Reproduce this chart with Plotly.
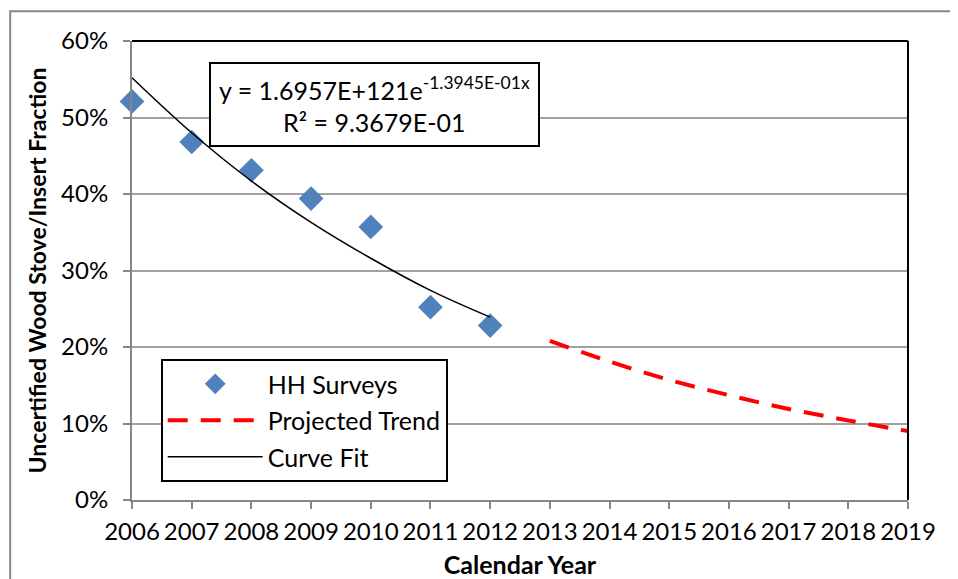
import plotly.graph_objects as go

years_obs = [2006, 2007, 2008, 2009, 2010, 2011, 2012]
hh_surveys = [0.521, 0.468, 0.431, 0.394, 0.357, 0.252, 0.228]

fit_years = [2006, 2007, 2008, 2009, 2010, 2011, 2012]
curve_fit = [0.552, 0.480, 0.417, 0.363, 0.316, 0.274, 0.239]

proj_years = [2013, 2014, 2015, 2016, 2017, 2018, 2019]
projected = [0.208, 0.181, 0.157, 0.137, 0.119, 0.104, 0.090]

x_ticks = list(range(2006, 2020))

FONT = "Lato, 'Open Sans', sans-serif"

fig = go.Figure()
fig.add_trace(go.Scatter(x=years_obs, y=hh_surveys, mode="markers", name="HH Surveys",
                         legendgroup="a", cliponaxis=False,
                         marker=dict(symbol="diamond", size=19, color="#4F81BD",
                                     line=dict(width=0))))
fig.add_trace(go.Scatter(x=proj_years, y=projected, mode="lines", name="Projected Trend",
                         legendgroup="b",
                         line=dict(color="#FF0000", width=4, dash="20px,13px", shape="spline")))
fig.add_trace(go.Scatter(x=fit_years, y=curve_fit, mode="lines", name="Curve Fit",
                         legendgroup="c",
                         line=dict(color="black", width=1.5, shape="spline")))

fig.update_layout(
    width=950, height=571,
    margin=dict(l=124, r=50, t=33, b=79, autoexpand=False),
    paper_bgcolor="white", plot_bgcolor="white",
    font=dict(family=FONT, size=24, color="black"),
    showlegend=True,
    legend=dict(x=0.037, y=0.307, xanchor="left", yanchor="top",
                bordercolor="black", borderwidth=2, bgcolor="white",
                font=dict(size=25), itemwidth=95, tracegroupgap=1),
    xaxis=dict(range=[2006, 2019], tickmode="array", tickvals=x_ticks,
               ticktext=[str(v) for v in x_ticks],
               showgrid=False, zeroline=False, showline=True, linecolor="#868686",
               linewidth=2, ticks="outside", ticklen=7, tickcolor="#868686", tickwidth=2,
               ticklabelstandoff=2,
               title=dict(text="<b>Calendar Year</b>", font=dict(size=25), standoff=16),
               tickfont=dict(size=24)),
    yaxis=dict(range=[0, 0.6], dtick=0.1, tickformat=".0%",
               showgrid=True, gridcolor="#A0A0A0", gridwidth=1.5, zeroline=False,
               showline=True, linecolor="#868686", linewidth=2,
               ticks="outside", ticklen=7, tickcolor="#868686", tickwidth=2,
               ticklabelstandoff=10,
               title=dict(text="<b>Uncertified Wood Stove/Insert Fraction</b>",
                          font=dict(size=23), standoff=8),
               tickfont=dict(size=24)),
)

# plot-area top and right border
fig.add_shape(type="line", xref="paper", yref="paper", x0=0, x1=1, y0=1, y1=1,
              line=dict(color="black", width=2))
fig.add_shape(type="line", xref="paper", yref="paper", x0=1, x1=1, y0=0, y1=1,
              line=dict(color="black", width=2))
# outer chart border
fig.add_shape(type="rect", xref="paper", yref="paper", x0=-0.157, x1=1.2, y0=-0.3, y1=1.065,
              line=dict(color="#868686", width=2), layer="below")

fig.add_annotation(xref="paper", yref="paper", x=0.312, y=0.862, xanchor="center", yanchor="middle",
                   text="y = 1.6957E+121e<sup>-1.3945E-01x</sup><br>R² = 9.3679E-01",
                   showarrow=False, align="center", font=dict(size=25),
                   bordercolor="black", borderwidth=2, bgcolor="white", borderpad=8)

fig.write_html("out.html")
